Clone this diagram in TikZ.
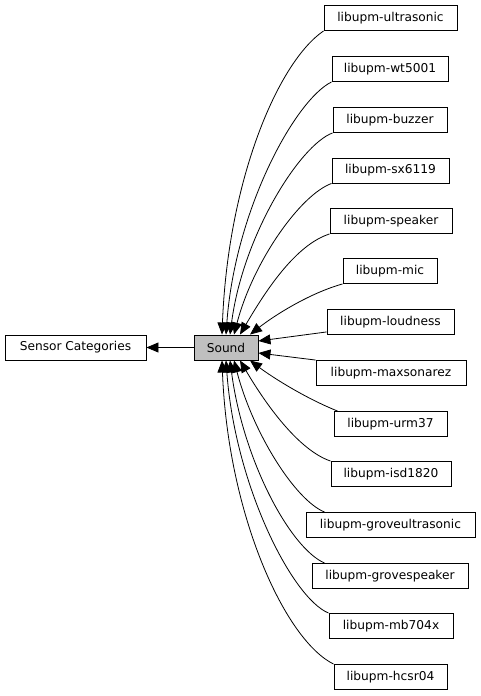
\documentclass[tikz,border=0pt]{standalone}
\usepackage{fontspec}
\setmainfont{DejaVu Sans}
\usetikzlibrary{arrows.meta}

\begin{document}
\begin{tikzpicture}[
    x=1pt, y=-1pt,
    >={Triangle[length=12pt,width=10pt]},
    font=\fontsize{12.2}{14}\selectfont,
    group/.style={
		rectangle,
		draw=black,
		line width=0.9pt,
		text centered,
		inner sep=0pt,
		minimum height=25pt,
		minimum width=#1,
		fill=white
	},
	current/.style={
		group=#1,
		fill=black!25
	},
	link/.style={
		draw,
		line width=0.8pt,
		->
	}
  ]
  \fill [white] (0,0) rectangle (480,696);
  \useasboundingbox (0,0) rectangle (480,696);

  % the group itself and its parent
  \node [current=64pt] (sound) at (226,347.5) {Sound};
  \node [group=141pt] (sensors) at (75.5,347.5) {Sensor Categories};

  % the member libraries
  \node [group=133pt] (ultrasonic) at (390.5,18) {libupm-ultrasonic};
  \node [group=116pt] (wt5001) at (390,69) {libupm-wt5001};
  \node [group=114pt] (buzzer) at (390,120) {libupm-buzzer};
  \node [group=117pt] (sx6119) at (390.5,170.5) {libupm-sx6119};
  \node [group=122pt] (speaker) at (391,221) {libupm-speaker};
  \node [group=94pt] (mic) at (390,271) {libupm-mic};
  \node [group=127pt] (loudness) at (390.5,322) {libupm-loudness};
  \node [group=150pt] (maxsonarez) at (391,373) {libupm-maxsonarez};
  \node [group=113pt] (urm37) at (390.5,424) {libupm-urm37};
  \node [group=120pt] (isd1820) at (391,474) {libupm-isd1820};
  \node [group=169pt] (groveultrasonic) at (390.5,525) {libupm-groveultrasonic};
  \node [group=156pt] (grovespeaker) at (390,576) {libupm-grovespeaker};
  \node [group=124pt] (mb704x) at (391,626) {libupm-mb704x};
  \node [group=113pt] (hcsr04) at (390.5,677) {libupm-hcsr04};

  % links
  \draw [link] (sound) -- (sensors);

  \draw [link] (ultrasonic.south west) .. controls (278,62) and (228,180) .. ([xshift=-4pt]sound.north);
  \draw [link] (wt5001.south west) .. controls (295,100) and (235,210) .. (sound.north);
  \draw [link] (buzzer.south west) .. controls (300,145) and (243,235) .. ([xshift=4pt]sound.north);
  \draw [link] (sx6119.south west) .. controls (300,195) and (253,262) .. ([xshift=8pt]sound.north);
  \draw [link] (speaker.south west) .. controls (295,245) and (265,292) .. ([xshift=14pt]sound.north);
  \draw [link] (mic.south west) .. controls (310,293) and (275,315) .. ([xshift=24pt]sound.north);
  \draw [link] ([yshift=3pt]loudness.south west) -- ([yshift=6.5pt]sound.east);
  \draw [link] (maxsonarez.north west) -- ([yshift=-5.5pt]sound.east);
  \draw [link] ([xshift=4pt]urm37.north west) .. controls (305,398) and (272,377) .. ([xshift=24pt]sound.south);
  \draw [link] (isd1820.north west) .. controls (298,450) and (265,403) .. ([xshift=14pt]sound.south);
  \draw [link] ([xshift=19pt]groveultrasonic.north west) .. controls (295,500) and (253,433) .. ([xshift=8pt]sound.south);
  \draw [link] ([xshift=13pt]grovespeaker.north west) .. controls (290,548) and (243,460) .. ([xshift=4pt]sound.south);
  \draw [link] (mb704x.north west) .. controls (292,598) and (235,485) .. (sound.south);
  \draw [link] (hcsr04.north west) .. controls (285,640) and (228,515) .. ([xshift=-4pt]sound.south);

\end{tikzpicture}
\end{document}
